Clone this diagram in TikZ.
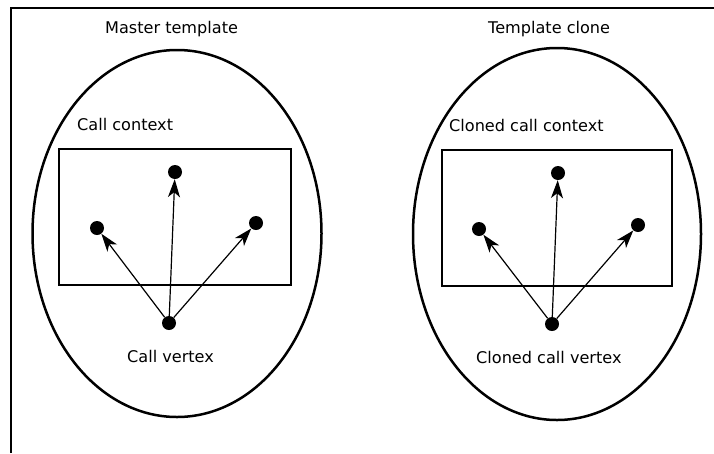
\documentclass[tikz,border=0pt]{standalone}
\usepackage{fontspec}
\setmainfont{DejaVu Sans}
\usetikzlibrary{arrows.meta,shapes.geometric}
\begin{document}
\begin{tikzpicture}[x=1pt,y=-1pt,
  dot/.style={circle,fill=black,inner sep=0pt,minimum size=14pt},
  lbl/.style={inner sep=0pt,anchor=base west,font=\fontsize{16.1}{19}\selectfont},
  arr/.style={-{Stealth[length=18pt,width=12pt,inset=5pt]},line width=1.2pt},
  boxst/.style={draw,line width=2.8pt},
  ell/.style={draw,line width=2.5pt}]
\useasboundingbox (0,0) rectangle (714,453);
\coordinate (fa) at (11,453);
\coordinate (fb) at (11,8);
\coordinate (fc) at (714,8);
\draw[line width=2.8pt] (fa) -- (fb) -- (fc);
% left
\node[ell,ellipse,minimum width=289pt,minimum height=367pt,inner sep=0pt] (e1) at (177,233.5) {};
\node[boxst,minimum width=232pt,minimum height=136pt,inner sep=0pt] (r1) at (175,217) {};
\node[dot] (t1) at (175,172) {};
\node[dot] (l1) at (97,228) {};
\node[dot] (q1) at (256,223) {};
\node[dot] (b1) at (169,323) {};
\draw[arr] (b1) -- (t1);
\draw[arr] (b1) -- (l1);
\draw[arr] (b1) -- (q1);
\node[lbl] (m1) at (105,33) {Master template};
\node[lbl] (c1) at (77,130) {Call context};
\node[lbl] (v1) at (127,362) {Call vertex};
% right
\node[ell,ellipse,minimum width=288pt,minimum height=372pt,inner sep=0pt] (e2) at (557,234) {};
\node[boxst,minimum width=230pt,minimum height=136pt,inner sep=0pt] (r2) at (557,218) {};
\node[dot] (t2) at (558,173) {};
\node[dot] (l2) at (479,229) {};
\node[dot] (q2) at (638,225) {};
\node[dot] (b2) at (552,324) {};
\draw[arr] (b2) -- (t2);
\draw[arr] (b2) -- (l2);
\draw[arr] (b2) -- (q2);
\node[lbl] (m2) at (488,33) {Template clone};
\node[lbl] (c2) at (449,131) {Cloned call context};
\node[lbl] (v2) at (476,363) {Cloned call vertex};
\end{tikzpicture}
\end{document}
